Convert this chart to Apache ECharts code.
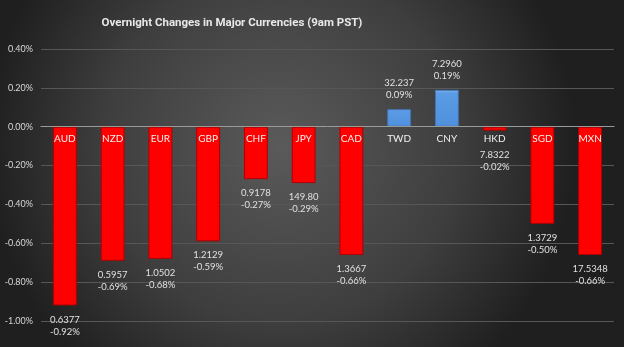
<!DOCTYPE html>
<html>
<head>
<meta charset="utf-8">
<script src="https://cdn.jsdelivr.net/npm/echarts@6/dist/echarts.min.js"></script>
<style>
  html, body { margin: 0; padding: 0; background: #2b2b2b; }
  #chart { width: 624px; height: 347px; }
</style>
</head>
<body>
<div id="chart"></div>
<script>
// Currency codes along the x axis
const currencies = ['AUD', 'NZD', 'EUR', 'GBP', 'CHF', 'JPY', 'CAD', 'TWD', 'CNY', 'HKD', 'SGD', 'MXN'];
// Overnight percent change of each currency
const changes = [-0.92, -0.69, -0.68, -0.59, -0.27, -0.29, -0.66, 0.09, 0.19, -0.02, -0.50, -0.66];
// Current quote shown above the percent change
const quotes = ['0.6377', '0.5957', '1.0502', '1.2129', '0.9178', '149.80', '1.3667', '32.237', '7.2960', '7.8322', '1.3729', '17.5348'];
// Value axis range and step (percent)
const yMin = -1.0, yMax = 0.4, yStep = 0.2;

const FONT = 'Lato, "Open Sans", sans-serif';
const TITLE_FONT = 'Roboto, Lato, sans-serif';
const W = 624, H = 347;
const GRID = { left: 41, right: 10, top: 49, bottom: 26 };

// The category axis sits on the zero line of the value axis
const plotH = H - GRID.top - GRID.bottom;
const pxPerUnit = plotH / (yMax - yMin);
const zeroOffset = -pxPerUnit * (0 - yMin);

const barData = changes.map(function (v) {
  const up = v >= 0;
  const barPx = Math.abs(v) * pxPerUnit;
  return {
    value: v,
    itemStyle: up
      ? { color: { type: 'linear', x: 0, y: 0, x2: 0, y2: 1, colorStops: [
            { offset: 0, color: '#8fc0f5' }, { offset: 0.08, color: '#5c9ce6' }, { offset: 1, color: '#4f8fdc' }] },
          borderColor: '#3f74b5', borderWidth: 1 }
      : { color: '#ff0000', borderColor: '#b00000', borderWidth: 1 },
    // short negative bars push their label clear of the category name
    label: { position: up ? 'top' : 'bottom', distance: up ? 8 : Math.max(8, 22 - barPx) }
  };
});

const chart = echarts.init(document.getElementById('chart'));
chart.setOption({
  backgroundColor: {
    type: 'radial', x: 0.45, y: 0.42, r: 0.85,
    colorStops: [
      { offset: 0, color: '#5a5a5a' },
      { offset: 0.6, color: '#3e3e3e' },
      { offset: 1, color: '#1f1f1f' }
    ]
  },
  animation: false,
  title: {
    text: 'Overnight Changes in Major Currencies (9am PST)',
    left: 227, top: 12,
    textAlign: 'center',
    textStyle: { color: '#e8e8e8', fontSize: 11.5, fontWeight: 'bold', fontFamily: TITLE_FONT }
  },
  grid: Object.assign({ containLabel: false }, GRID),
  xAxis: {
    type: 'category',
    data: currencies,
    offset: zeroOffset,
    axisLine: { onZero: false, lineStyle: { color: '#9a9a9a', width: 1 } },
    axisTick: { show: false },
    axisLabel: { color: '#f0f0f0', fontSize: 10, margin: 7, fontFamily: FONT },
    z: 10
  },
  yAxis: {
    type: 'value',
    min: yMin, max: yMax, interval: yStep,
    axisLine: { show: false },
    axisTick: { show: false },
    axisLabel: {
      color: '#d8d8d8', fontSize: 9, margin: 8, fontFamily: FONT,
      formatter: function (v) { return v.toFixed(2) + '%'; }
    },
    splitLine: { lineStyle: { color: '#575757', width: 1 } }
  },
  series: [{
    type: 'bar',
    data: barData,
    barWidth: '50%',
    label: {
      show: true,
      color: '#e0e0e0',
      fontSize: 9.5,
      lineHeight: 12,
      fontFamily: FONT,
      formatter: function (p) {
        return quotes[p.dataIndex] + '\n' + p.value.toFixed(2) + '%';
      }
    }
  }]
});
</script>
</body>
</html>
